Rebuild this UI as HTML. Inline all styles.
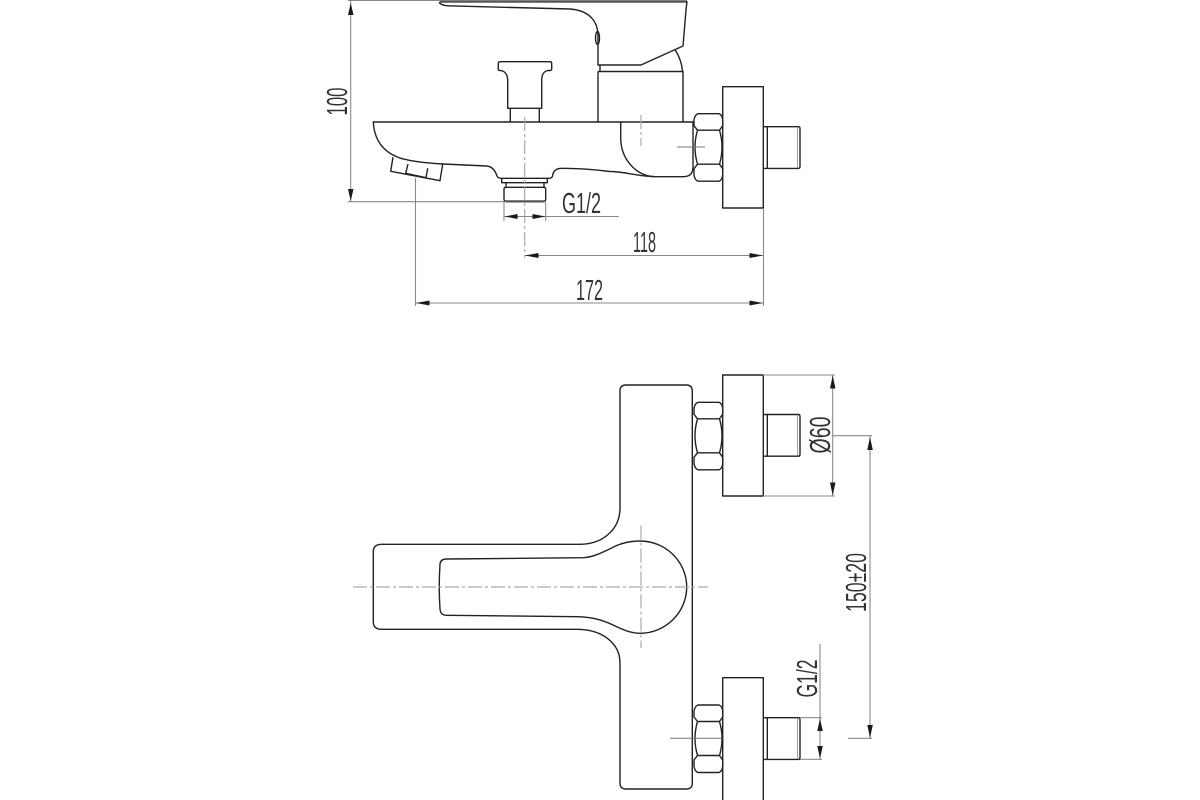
<!DOCTYPE html>
<html><head><meta charset="utf-8"><style>
html,body{margin:0;padding:0;background:#fff}
svg{display:block}
.o{fill:none;stroke:#222;stroke-width:1.4;stroke-linejoin:round}
.d{fill:none;stroke:#8a8a8a;stroke-width:1.1}
.c{fill:none;stroke:#aaa;stroke-width:1.2;stroke-dasharray:14 3 3 3}
.a{fill:#1a1a1a;stroke:none}
text{font-family:"Liberation Sans",sans-serif;font-size:29px;fill:#333}
</style></head><body>
<svg width="1200" height="800" viewBox="0 0 1200 800" xmlns="http://www.w3.org/2000/svg">
<rect width="1200" height="800" fill="#fff"/>
<defs>
<g id="nut" class="o" stroke-width="1.200">
<path d="M698 0H719Q722 1 722.700 6V12L719.500 16.500H697.500L694 12V6Q695 1 698 0Z"/>
<path d="M697.500 50.500H719.500L722.700 55V61.500Q722 66.500 719 67.500H698Q695 66.500 694 61.500V55Z"/>
<path d="M697.500 16.500Q692.500 33.500 697.500 50.500M719.500 16.500Q724.500 33.500 719.500 50.500"/>
</g>
<g id="thr">
<path class="o" d="M763.300 0H767.300V41.700H763.300"/>
<path class="o" d="M767.300 0H798.500Q800 0 800 2V39.700Q800 41.700 798.500 41.700H767.300"/>
<path d="M797.500 1V41" stroke="#888" stroke-width="0.800" fill="none"/>
</g>
</defs>

<!-- TOP VIEW -->
<path d="M440 1.500H687" fill="none" stroke="#555" stroke-width="2.600"/>
<path class="o" d="M439 2Q441 5.500 448 5.800L570 9C590 10.500 598 22 598 36V65H641L683 46L686 10L687 1"/>
<ellipse class="o" cx="597.500" cy="38" rx="2" ry="6.500" stroke-width="1"/>
<path class="o" d="M600 65V71.500M675 49.500C679 56 682 63 682.500 71.500"/>
<path class="o" d="M598 71.500H683V122M598 71.500V122"/>
<path class="o" d="M373.300 122H693V167Q693 176.700 683 176.700H655C635 176 625 171.500 610 171.500C590 169 575 168.300 562 168.300C555 168.300 553 172 552.500 176Q552 178.300 549 178.300H501Q498 178.300 497 176C495 170 492 166.500 486.700 166L443 164C425 163 405 160.500 396.700 156.700C382 151 374 138 373.300 122Z"/>
<path class="o" d="M620.700 122V138C620.700 158 635 176 655 176.700"/>
<path class="o" d="M393 157.300L390.700 171.300L440 180.700L442.700 164M408 164L405.700 173.300L426 177.700L427.700 168.300"/>
<path class="o" d="M500 61.700H550Q551.700 61.700 551.700 63.500V69Q551.700 70.500 550 70.500H548C543 71.500 541.700 76 541.700 80V108.300H507.700V80C507.700 76 506 71.500 501 70.500H500Q498.300 70.500 498.300 69V63.500Q498.300 61.700 500 61.700Z"/>
<path class="o" d="M510.300 108.300V122M539.300 108.300V122"/>
<path class="o" d="M501.700 178.300V182.700H547.300V178.300M506 182.700V187.300M544 182.700V187.300"/>
<path class="o" d="M506 187.300H544Q545.700 187.300 545.700 189V199Q545.700 201.700 543 201.700H507Q504 201.700 504 199V189Q504 187.300 506 187.300Z"/>
<path d="M505 201.300H545" stroke="#555" stroke-width="2" fill="none"/>
<path class="c" d="M524.700 117V258"/>
<rect class="o" x="722.700" y="86.700" width="40.600" height="121.300"/>
<use href="#nut" y="113.700"/>
<use href="#thr" y="126.700"/>
<path d="M677 147H705" stroke="#777" stroke-width="1" fill="none"/>
<path class="c" d="M641 115V146"/>

<path class="d" d="M348 201.700H504M348 0.500H440M350.700 0V201.700"/>
<path class="a" d="M350.700 3L353.500 15H348ZM350.700 201L353.500 189H348Z"/>
<text transform="translate(347,115.500) rotate(-90)" textLength="28" lengthAdjust="spacingAndGlyphs">100</text>

<path class="d" d="M504 202V221M545.700 202V221M504 216.500H619"/>
<path class="a" d="M504.500 216.500L517.500 214V219ZM545.500 216.500L532.500 214V219Z"/>
<text x="562" y="213" textLength="39" lengthAdjust="spacingAndGlyphs">G1/2</text>

<path class="d" d="M525 255.500H763M415.500 303H763M763.500 208V306M415.500 178V306"/>
<path class="a" d="M525 255.500L538.500 253V258ZM763 255.500L749.500 253V258ZM416 303L429.500 300.500V305.500ZM763 303L749.500 300.500V305.500Z"/>
<text x="633" y="252" textLength="23" lengthAdjust="spacingAndGlyphs">118</text>
<text x="576" y="300" textLength="27" lengthAdjust="spacingAndGlyphs">172</text>

<!-- BOTTOM VIEW -->
<path class="o" d="M626 385H686.300Q692.300 385 692.300 391V783Q692.300 789 686.300 789H626Q620 789 620 783V663C620 643 602 629.300 576.700 629.300H381.700Q373.300 629.300 373.300 621.700V551.700Q373.300 544.300 381.700 544.300H580C602 544.300 620 530 620 508V391Q620 385 626 385Z"/>
<path class="o" d="M446.700 559L583.300 557.700C595 557 605 551 616.700 545.500C624 542.500 632 541 640 541C665 541 686.700 561 686.700 587C686.700 613 665 633.300 640 633.300C632 633.300 625 630.500 616.700 626.700C605 621 595 617 576.700 616.700L446.700 615.300Q440.500 615.300 440 609Q438.500 587 440 564Q440.500 559 446.700 559Z"/>
<path class="c" d="M353 587H708M641 525.500V648"/>

<rect class="o" x="722.700" y="375" width="40.600" height="121"/>
<use href="#nut" y="402.300"/>
<use href="#thr" y="414.500"/>
<path class="o" d="M722.700 800V677.700H763.300V800"/>
<use href="#nut" y="705"/>
<use href="#thr" y="717.700"/>
<path d="M670 738.300H721" stroke="#777" stroke-width="1" fill="none"/>

<path class="d" d="M763 375H835M763 496H835M832.700 375V496"/>
<path class="a" d="M832.700 375.500L835.500 388.500H830ZM832.700 495.500L835.500 482.500H830Z"/>
<text transform="translate(830,453.500) rotate(-90)" textLength="37" lengthAdjust="spacingAndGlyphs">Ø60</text>

<path class="d" d="M833 435.700H872M848 738.300H872M870 436V738"/>
<path class="a" d="M870 437L872.800 450H867.300ZM870 738L872.800 725H867.300Z"/>
<text transform="translate(866,612) rotate(-90)" textLength="59" lengthAdjust="spacingAndGlyphs">150±20</text>

<path class="d" d="M800 717.700H822M800 759.300H822M820 644V759"/>
<path class="a" d="M820 718.500L822.800 731H817.300ZM820 758.500L822.800 746H817.300Z"/>
<text transform="translate(817,697.500) rotate(-90)" textLength="38" lengthAdjust="spacingAndGlyphs">G1/2</text>
</svg>
</body></html>
